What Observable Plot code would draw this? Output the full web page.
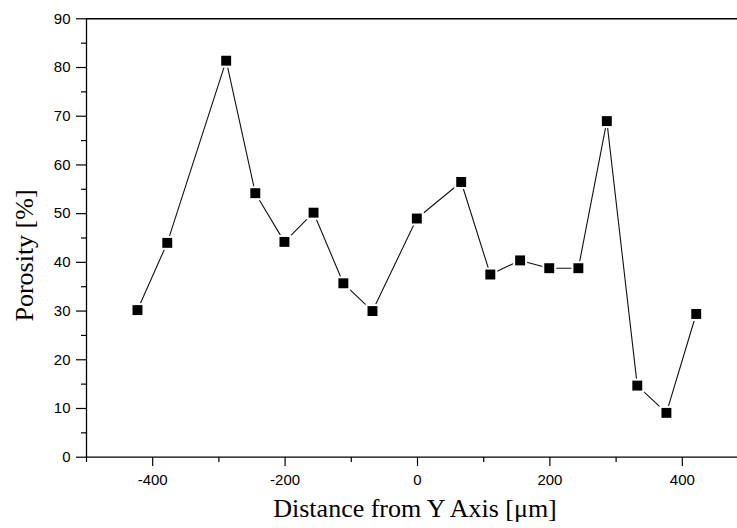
<!DOCTYPE html>
<html>
<head>
<meta charset="utf-8">
<script src="https://cdn.jsdelivr.net/npm/d3@7"></script>
<script src="https://cdn.jsdelivr.net/npm/@observablehq/plot@0.6"></script>
<style>
  html, body { margin: 0; padding: 0; background: #fff; overflow: hidden; }
</style>
</head>
<body>
<div id="chart"></div>
<script>
// Data
const distance = [-423, -378, -289, -245, -201, -157, -112, -68, -1, 66, 110, 155, 199, 243, 286, 332, 376, 421];
const porosity = [30.2, 44.0, 81.4, 54.2, 44.2, 50.2, 35.7, 30.0, 49.0, 56.5, 37.5, 40.4, 38.8, 38.8, 69.0, 14.7, 9.1, 29.4];

// Axis ticks
const xTicks = [-400, -200, 0, 200, 400];
const xMinor = [-500, -300, -100, 100, 300, 500];
const yTicks = [0, 10, 20, 30, 40, 50, 60, 70, 80, 90];
const yMinor = [5, 15, 25, 35, 45, 55, 65, 75, 85];

const xTitle = "Distance from Y Axis [\u03BCm]";
const yTitle = "Porosity [%]";

const data = distance.map((d, i) => ({x: d, y: porosity[i]}));

const serif = "'Liberation Serif', 'Times New Roman', serif";

const chart = Plot.plot({
  width: 737,
  height: 528,
  marginLeft: 86,
  marginRight: 0,
  marginTop: 18,
  marginBottom: 71,
  style: {fontFamily: "'Liberation Sans', Arial, sans-serif", fontSize: "15px", color: "#000", background: "#fff"},
  x: {domain: [-500, 500], range: [86, 748]},
  y: {domain: [0, 90], range: [456.7, 18.3]},
  marks: [
    Plot.axisX({ticks: xTicks, tickSize: 9, tickPadding: 8, tickFormat: d => String(d), label: null, strokeWidth: 1.2, fontSize: 15}),
    Plot.axisX(xMinor, {tickSize: 5, tickFormat: () => "", label: null, strokeWidth: 1.2}),
    Plot.axisY({ticks: yTicks, tickSize: 10, tickPadding: 6, tickFormat: d => String(d), label: null, strokeWidth: 1.2, fontSize: 15}),
    Plot.axisY(yMinor, {tickSize: 5, tickFormat: () => "", label: null, strokeWidth: 1.2}),
    Plot.ruleY([0], {stroke: "#000", strokeWidth: 1.3}),
    Plot.ruleY([90], {stroke: "#000", strokeWidth: 1.6}),
    Plot.ruleX([-500], {stroke: "#000", strokeWidth: 1.3}),
    Plot.line(data, {x: "x", y: "y", stroke: "#111", strokeWidth: 1.1}),
    Plot.dot(data, {x: "x", y: "y", symbol: "square", r: 7.9, fill: "#fff", stroke: "none"}),
    Plot.dot(data, {x: "x", y: "y", symbol: "square", r: 5.6, fill: "#000", stroke: "none"}),
    Plot.text([xTitle], {frameAnchor: "bottom", textAnchor: "middle", dx: 3, dy: 59.5, fontFamily: serif, fontSize: 26, fill: "#000"}),
    Plot.text([yTitle], {frameAnchor: "left", textAnchor: "middle", dx: -62, dy: 17.5, rotate: -90, fontFamily: serif, fontSize: 26, fill: "#000"})
  ]
});
document.getElementById("chart").appendChild(chart);
</script>
</body>
</html>
